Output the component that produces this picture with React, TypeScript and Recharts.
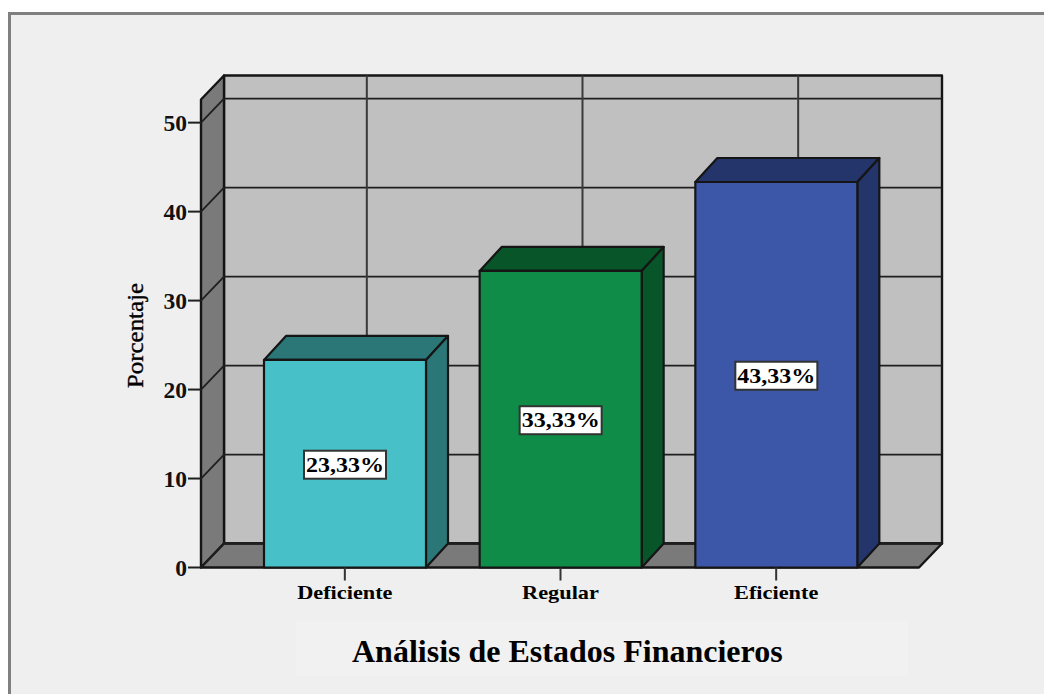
import { Bar, BarChart, Label, LabelList, ReferenceArea, ReferenceLine, XAxis, YAxis } from "recharts";

const categories = ["Deficiente", "Regular", "Eficiente"];
const percentages = [23.33, 33.33, 43.33];
const yTicks = [0, 10, 20, 30, 40, 50];
const yMax = 52.6;

const frontColors = ["#47c1c7", "#0f8c47", "#3c56a8"];
const depthColors = ["#2b7677", "#075528", "#24356c"];

const rows = categories.map((name, i) => ({ name, value: percentages[i] }));

// depth of the fake 3D box, in pixels
const DX = 23;
const DY = 24;
// empty room left and right of the bars on the category axis
const PAD_LEFT = 36;
const PAD_RIGHT = 35;
const INK = "#151515";
const SERIF = "'Liberation Serif', serif";

// side wall, back wall and floor of the box
function Room({ x: innerX, y, width: innerWidth, height }: any) {
  const x = innerX - PAD_LEFT;
  const width = innerWidth + PAD_LEFT + PAD_RIGHT;
  const bottom = y + height;
  const right = x + width;
  return (
    <g stroke={INK} strokeWidth={2.4} strokeLinejoin="round">
      <rect x={x + DX} y={y - DY} width={width} height={height} fill="#c0c0c0" />
      <polygon points={`${x},${bottom} ${x},${y} ${x + DX},${y - DY} ${x + DX},${bottom - DY}`} fill="#7a7a7a" />
      <polygon points={`${x},${bottom} ${x + DX},${bottom - DY} ${right + DX},${bottom - DY} ${right},${bottom}`} fill="#7a7a7a" />
    </g>
  );
}

// a value gridline runs up the side wall, then along the back wall
function WallGridLine({ x1, y1, x2 }: any) {
  return (
    <polyline
      points={`${x1},${y1} ${x1 + DX},${y1 - DY} ${x2 + DX},${y1 - DY}`}
      fill="none"
      stroke="#1f1f1f"
      strokeWidth={1.8}
    />
  );
}

function BackGridLine({ x1, y1, y2 }: any) {
  const top = Math.min(y1, y2);
  const bottom = Math.max(y1, y2);
  return <line x1={x1 + DX - 1} x2={x1 + DX - 1} y1={top - DY} y2={bottom - DY} stroke="#3a3a3a" strokeWidth={2} />;
}

function Box3D({ x, y, width, height, index }: any) {
  const right = x + width;
  const bottom = y + height;
  const dx = DX - 1;
  return (
    <g stroke={INK} strokeWidth={2.2} strokeLinejoin="round">
      <polygon points={`${x},${y} ${x + dx},${y - DY} ${right + dx},${y - DY} ${right},${y}`} fill={depthColors[index]} />
      <polygon points={`${right},${y} ${right + dx},${y - DY} ${right + dx},${bottom - DY} ${right},${bottom}`} fill={depthColors[index]} />
      <rect x={x} y={y} width={width} height={height} fill={frontColors[index]} />
    </g>
  );
}

function ValueTag({ x, y, width, height, value }: any) {
  const cx = x + width / 2;
  const cy = y + height / 2;
  return (
    <g>
      <rect x={cx - 41} y={cy - 13} width={82} height={28} fill="#fff" stroke="#333" strokeWidth={2} />
      <text
        x={cx}
        y={cy + 8}
        textAnchor="middle"
        fontFamily={SERIF}
        fontWeight="bold"
        fontSize={20}
        textLength={78}
        lengthAdjust="spacingAndGlyphs"
        fill="#000"
      >
        {String(value).replace(".", ",")}%
      </text>
    </g>
  );
}

function ValueTick({ x, y, payload }: any) {
  return (
    <text x={x + 1} y={y + 8} textAnchor="end" fontFamily={SERIF} fontWeight="bold" fontSize={23.5} fill="#111">
      {payload.value}
    </text>
  );
}

// category names are drawn wider than the font's natural width
function CategoryTick({ x, y, payload }: any) {
  return (
    <text
      transform={`translate(${x} ${y + 16}) scale(1.24 1)`}
      textAnchor="middle"
      fontFamily={SERIF}
      fontWeight="bold"
      fontSize={18}
      fill="#000"
    >
      {payload.value}
    </text>
  );
}

function AxisTitle({ viewBox }: any) {
  const x = viewBox.x + 2;
  const y = viewBox.y + viewBox.height / 2 + 2;
  return (
    <text
      transform={`rotate(-90 ${x} ${y})`}
      x={x}
      y={y}
      textAnchor="middle"
      fontFamily={SERIF}
      fontSize={23}
      textLength={105}
      lengthAdjust="spacingAndGlyphs"
      fill="#000"
      stroke="#000"
      strokeWidth={0.35}
    >
      Porcentaje
    </text>
  );
}

export default function App() {
  return (
    <div style={{ position: "absolute", left: 0, top: 0, width: 1044, height: 694, background: "#fff", overflow: "hidden" }}>
      <div
        style={{
          position: "absolute",
          left: 8,
          top: 12,
          width: 1036,
          height: 682,
          boxSizing: "border-box",
          background: "#efefef",
          borderLeft: "3px solid #808080",
          borderTop: "3px solid #808080",
        }}
      />
      <div
        style={{
          position: "absolute",
          left: 296,
          top: 621,
          width: 612,
          height: 55,
          boxSizing: "border-box",
          paddingLeft: 56,
          background: "#f1f1f1",
          fontFamily: SERIF,
          fontWeight: "bold",
          fontSize: 32,
          lineHeight: "60px",
          color: "#000",
        }}
      >
        Análisis de Estados Financieros
      </div>
      <div style={{ position: "absolute", left: 0, top: 0 }}>
        <BarChart
          width={1044}
          height={694}
          data={rows}
          margin={{ top: 99.5, right: 125, bottom: 86.5, left: 141 }}
          barSize={162}
        >
          <XAxis
            dataKey="name"
            height={40}
            padding={{ left: PAD_LEFT, right: PAD_RIGHT }}
            axisLine={false}
            tickSize={13}
            tickLine={{ stroke: "#333", strokeWidth: 2 }}
            tick={<CategoryTick />}
            interval={0}
          />
          <YAxis
            width={60}
            domain={[0, yMax]}
            ticks={yTicks}
            axisLine={false}
            tickSize={13}
            tickLine={{ stroke: "#1f1f1f", strokeWidth: 2 }}
            tick={<ValueTick />}
          >
            <Label content={<AxisTitle />} />
          </YAxis>
          <ReferenceArea y1={0} y2={yMax} shape={<Room />} ifOverflow="visible" />
          {yTicks.map((t) => (
            <ReferenceLine key={t} y={t} shape={<WallGridLine />} ifOverflow="visible" zIndex={150} />
          ))}
          {categories.map((c) => (
            <ReferenceLine key={c} x={c} shape={<BackGridLine />} ifOverflow="visible" zIndex={150} />
          ))}
          <Bar dataKey="value" isAnimationActive={false} shape={<Box3D />}>
            <LabelList dataKey="value" content={<ValueTag />} />
          </Bar>
        </BarChart>
      </div>
    </div>
  );
}
